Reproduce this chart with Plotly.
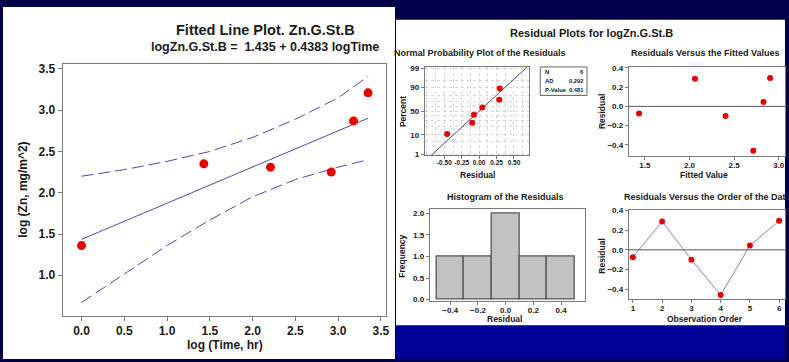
import math
import plotly.graph_objects as go

W, H = 789, 362

# ---------------- data ----------------
log_time = [0.0, 1.43, 2.21, 2.92, 3.18, 3.35]
log_zn = [1.36, 2.35, 2.31, 2.25, 2.87, 3.21]
fit_x = [0.0, 3.35]
fit_y = [1.435, 2.903]
band_x = [0.0, 0.5, 1.0, 1.5, 2.0, 2.5, 3.0, 3.35]
band_upper = [2.20, 2.28, 2.38, 2.50, 2.67, 2.89, 3.15, 3.41]
band_lower = [0.67, 1.02, 1.36, 1.67, 1.95, 2.16, 2.31, 2.40]

fitted = [1.435, 2.062, 2.404, 2.715, 2.829, 2.903]
residuals = [-0.075, 0.288, -0.10, -0.46, 0.045, 0.295]
obs_order = [1, 2, 3, 4, 5, 6]

npp_resid = [-0.46, -0.10, -0.075, 0.045, 0.288, 0.295]
npp_pct = [10.9, 26.6, 42.2, 57.8, 73.4, 89.1]
npp_line_x = [-0.69, 0.69]
npp_line_pct = [0.82, 99.18]
npp_tick_pct = [1, 10, 50, 90, 99]
npp_grid_pct = [5, 20, 30, 40, 60, 70, 80, 95]
npp_xticks = [-0.5, -0.25, 0.0, 0.25, 0.5]
npp_xtick_text = ["-0.50", "-0.25", "0.00", "0.25", "0.50"]
npp_xgrid = [-0.75, -0.625, -0.375, -0.125, 0.125, 0.375, 0.625]

hist_centers = [-0.4, -0.2, 0.0, 0.2, 0.4]
hist_counts = [1, 1, 2, 1, 1]

stat_names = ["N", "AD", "P-Value"]
stat_values = ["6", "0.292", "0.481"]


def probit(p):
    lo, hi = -8.0, 8.0
    for _ in range(80):
        mid = (lo + hi) / 2
        if 0.5 * (1 + math.erf(mid / math.sqrt(2))) < p:
            lo = mid
        else:
            hi = mid
    return (lo + hi) / 2


def z(pcts):
    return [probit(p / 100.0) for p in pcts]


def fx(px):
    return px / W


def fy(py):
    return 1 - py / H


FONT = "Liberation Sans, Arial, sans-serif"
TXT = "#1a1a1a"
RED = "#e60000"
LINE = "#4b4ba3"
AX = "#7a7a7a"
GRID = "#d4d4d4"

fig = go.Figure()

# left fitted line plot
fig.add_trace(go.Scatter(x=band_x, y=band_upper, mode="lines",
                         line=dict(color=LINE, width=1, dash="12px,5px"),
                         xaxis="x", yaxis="y", showlegend=False))
fig.add_trace(go.Scatter(x=band_x, y=band_lower, mode="lines",
                         line=dict(color=LINE, width=1, dash="12px,5px"),
                         xaxis="x", yaxis="y", showlegend=False))
fig.add_trace(go.Scatter(x=fit_x, y=fit_y, mode="lines",
                         line=dict(color=LINE, width=1),
                         xaxis="x", yaxis="y", showlegend=False))
fig.add_trace(go.Scatter(x=log_time, y=log_zn, mode="markers",
                         marker=dict(color=RED, size=9),
                         xaxis="x", yaxis="y", showlegend=False))

# normal probability plot
fig.add_trace(go.Scatter(x=npp_line_x, y=z(npp_line_pct), mode="lines",
                         line=dict(color=LINE, width=1),
                         xaxis="x2", yaxis="y2", showlegend=False))
fig.add_trace(go.Scatter(x=npp_resid, y=z(npp_pct), mode="markers",
                         marker=dict(color=RED, size=6),
                         xaxis="x2", yaxis="y2", showlegend=False))

# residuals vs fitted
fig.add_trace(go.Scatter(x=fitted, y=residuals, mode="markers",
                         marker=dict(color=RED, size=6),
                         xaxis="x3", yaxis="y3", showlegend=False))

# histogram
fig.add_trace(go.Bar(x=hist_centers, y=hist_counts, width=0.2,
                     marker=dict(color="#c2c2c2", line=dict(color="#555555", width=1.3)),
                     xaxis="x4", yaxis="y4", showlegend=False))

# residuals vs order
fig.add_trace(go.Scatter(x=obs_order, y=residuals, mode="lines+markers",
                         line=dict(color="#8585c8", width=1),
                         marker=dict(color=RED, size=6),
                         xaxis="x5", yaxis="y5", showlegend=False))


def axis(domain, rng, anchor, size, small=False, **kw):
    d = dict(domain=domain, range=rng, anchor=anchor, showline=True, mirror=True,
             linecolor=AX, linewidth=1, ticks="outside", ticklen=3 if small else 4,
             tickcolor=AX, showgrid=False, zeroline=False, tickangle=0,
             tickfont=dict(family=FONT, size=size, color=TXT, weight="bold"))
    d.update(kw)
    return d


layout = dict(
    width=W, height=H, margin=dict(l=0, r=0, t=0, b=0),
    paper_bgcolor="#00004a", plot_bgcolor="white", bargap=0,
    xaxis=axis([fx(63), fx(388)], [-0.22, 3.56], "y", 12,
               tickvals=[0, 0.5, 1, 1.5, 2, 2.5, 3, 3.5], tickformat=".1f"),
    yaxis=axis([fy(318), fy(62)], [0.51, 3.56], "x", 12,
               tickvals=[1, 1.5, 2, 2.5, 3, 3.5], tickformat=".1f"),
    xaxis2=axis([fx(427), fx(532)], [-0.78, 0.72], "y2", 6.5, True,
                tickvals=npp_xticks, ticktext=npp_xtick_text, ticklabelstandoff=-2,
                showgrid=True, gridcolor=GRID, griddash="3px,3px",
                minor=dict(tickvals=npp_xgrid, showgrid=True, gridcolor=GRID,
                           griddash="3px,3px", ticks="")),
    yaxis2=axis([fy(155), fy(65)], [-2.4, 2.4], "x2", 8, True,
                tickvals=z(npp_tick_pct), ticktext=[str(p) for p in npp_tick_pct],
                showgrid=True, gridcolor=GRID, griddash="3px,3px",
                minor=dict(tickvals=z(npp_grid_pct), showgrid=True,
                           gridcolor=GRID, griddash="3px,3px", ticks="")),
    xaxis3=axis([fx(632), fx(789)], [1.32, 3.07], "y3", 8, True,
                tickvals=[1.5, 2.0, 2.5, 3.0], tickformat=".1f", ticklabelstandoff=-2),
    yaxis3=axis([fy(156), fy(65)], [-0.52, 0.41], "x3", 8, True,
                tickvals=[-0.4, -0.2, 0, 0.2, 0.4], tickformat=".1f"),
    xaxis4=axis([fx(432), fx(588)], [-0.547, 0.572], "y4", 8, True,
                tickvals=hist_centers, tickformat=".1f", ticklabelstandoff=-2),
    yaxis4=axis([fy(303), fy(209)], [-0.03, 2.11], "x4", 8, True,
                tickvals=[0, 0.5, 1, 1.5, 2], tickformat=".1f"),
    xaxis5=axis([fx(632), fx(789)], [0.86, 6.2], "y5", 8, True,
                tickvals=obs_order, ticklabelstandoff=-2),
    yaxis5=axis([fy(301), fy(210)], [-0.5, 0.41], "x5", 8, True,
                tickvals=[-0.4, -0.2, 0, 0.2, 0.4], tickformat=".1f"),
)
fig.update_layout(**layout)

shapes = [
    dict(type="rect", xref="paper", yref="paper", x0=fx(3), x1=fx(397), y0=fy(362), y1=fy(4),
         fillcolor="white", line=dict(width=0), layer="below"),
    dict(type="rect", xref="paper", yref="paper", x0=fx(398), x1=1, y0=fy(328), y1=fy(17),
         fillcolor="white", line=dict(width=0), layer="below"),
    dict(type="rect", xref="paper", yref="paper", x0=fx(398), x1=1, y0=0, y1=fy(328),
         fillcolor="#000094", line=dict(width=0), layer="below"),
    dict(type="line", xref="x3 domain", yref="y3", x0=0, x1=1, y0=0, y1=0,
         line=dict(color="#555555", width=1)),
    dict(type="line", xref="x5 domain", yref="y5", x0=0, x1=1, y0=0, y1=0,
         line=dict(color="#555555", width=1)),
    dict(type="rect", xref="paper", yref="paper", x0=fx(543), x1=fx(590), y0=fy(94), y1=fy(65),
         line=dict(color="#666666", width=1), fillcolor="white"),
]
fig.update_layout(shapes=shapes)

ann = []


def text(t, x, y, size, angle=0, xanchor="center"):
    ann.append(dict(text=t, x=fx(x), y=fy(y), xref="paper", yref="paper", showarrow=False,
                    xanchor=xanchor, yanchor="middle", textangle=angle,
                    font=dict(family=FONT, size=size, color=TXT, weight="bold")))


text("Fitted Line Plot. Zn.G.St.B", 267, 27, 14.5)
text("logZn.G.St.B =  1.435 + 0.4383 logTime", 266, 45, 12.5)
text("log (Zn, mg/m^2)", 23, 190, 12, angle=-90)
text("log (Time, hr)", 226, 348, 12)

text("Residual Plots for logZn.G.St.B", 595, 30, 11)
text("Normal Probability Plot of the Residuals", 482, 51, 9)
text("Residuals Versus the Fitted Values", 709, 51, 9)
text("Histogram of the Residuals", 508, 197, 9)
text("Residuals Versus the Order of the Data", 712, 197, 9)

text("Percent", 405, 110, 8.5, angle=-90)
text("Residual", 480, 174.5, 8.5)
text("Residual", 605, 110, 8.5, angle=-90)
text("Fitted Value", 708, 174.5, 8.5)
text("Frequency", 404, 257, 8.5, angle=-90)
text("Residual", 507, 321, 8.5)
text("Residual", 605, 257, 8.5, angle=-90)
text("Observation Order", 709, 321, 8.5)

for i, (n, v) in enumerate(zip(stat_names, stat_values)):
    yy = 70 + i * 9
    text(n, 545.5, yy, 5.8, xanchor="left")
    text(v, 588.5, yy, 5.8, xanchor="right")

fig.update_layout(annotations=ann)
fig.write_html("out.html", config={"displayModeBar": False},
               post_script="document.body.style.margin='0';document.body.style.overflow='hidden';")
